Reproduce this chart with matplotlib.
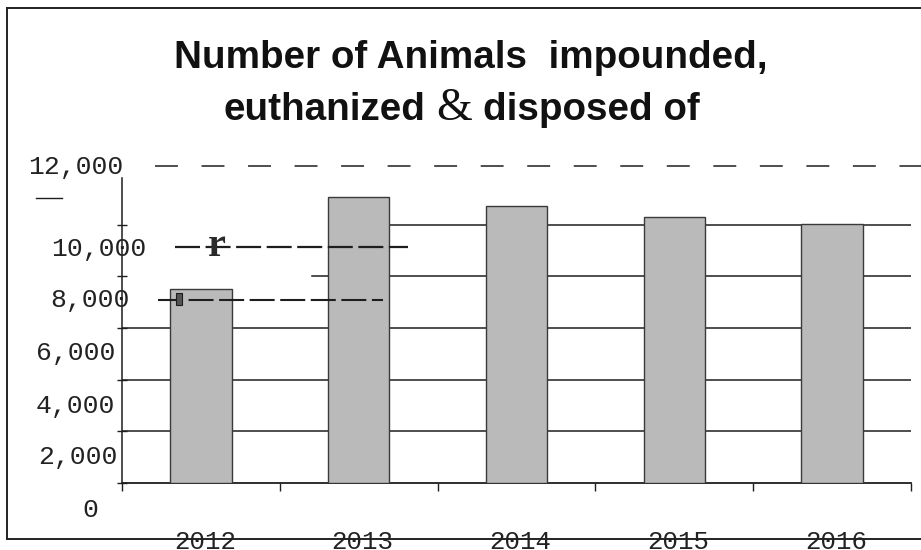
import matplotlib
matplotlib.use("Agg")
import matplotlib.pyplot as plt
import matplotlib.transforms as mtransforms
from matplotlib.lines import Line2D

years = ["2012", "2013", "2014", "2015", "2016"]
animals = [7500, 11070, 10730, 10310, 10040]

ytick_values = [0, 2000, 4000, 6000, 8000, 10000, 12000]
ytick_labels = ["0", "2,000", "4,000", "6,000", "8,000", "10,000", "12,000"]
# scanned page: labels sit off their gridlines, (dx, dy) in pixels
ytick_shift = [(-24, 27), (-5, 26), (-7, 26), (-7, 25), (8, 24), (24, 24), (1, -6)]

W, H = 921, 550
plt.rcParams["lines.scale_dashes"] = False

fig = plt.figure(figsize=(W / 100, H / 100), dpi=100)
ax = fig.add_axes([122 / W, 67 / H, 789 / W, 310 / H])

x = list(range(len(years)))
ax.bar(x, animals, width=0.39, color="#bababa", edgecolor="#3a3a3a",
       linewidth=1.0, zorder=3)

ax.set_xlim(-0.5, len(years) - 0.5)
ax.set_ylim(0, 12000)

# solid gridlines (upper two are broken on the scan)
grid_from = {2000: 0.0, 4000: 0.0, 6000: 0.0, 8000: 0.241, 10000: 0.34}
for v, start in grid_from.items():
    ax.axhline(v, xmin=start, xmax=1, color="#1e1e1e", lw=1.1, zorder=1)

for s in ["top", "right"]:
    ax.spines[s].set_visible(False)
ax.spines["left"].set_bounds(0, 11800)
ax.spines["left"].set_linewidth(1.1)
ax.spines["bottom"].set_linewidth(1.3)
ax.spines["left"].set_color("#1e1e1e")
ax.spines["bottom"].set_color("#1e1e1e")

# y ticks drawn as marks only, labels placed by hand below
ax.set_yticks(ytick_values[:-1])
ax.set_yticklabels([])
ax.tick_params(axis="y", direction="inout", length=7, width=1.0, color="#1e1e1e")

ytr = ax.get_yaxis_transform()
for v, lab, (dx, dy) in zip(ytick_values, ytick_labels, ytick_shift):
    off = mtransforms.ScaledTranslation(dx / 100, -dy / 100, fig.dpi_scale_trans)
    ax.text(0, v, lab, transform=ytr + off, ha="right", va="center",
            family="Liberation Mono", fontsize=19, color="#222222")

# x: ticks between categories, labels under the bars
ax.set_xticks([i - 0.5 for i in range(len(years) + 1)])
ax.set_xticklabels([])
ax.tick_params(axis="x", which="major", direction="out", length=6, width=1.0,
               color="#1e1e1e")
ax.set_xticks(x, minor=True)
ax.set_xticklabels(years, minor=True, family="Liberation Mono", fontsize=18.5,
                   color="#222222")
ax.tick_params(axis="x", which="minor", length=0, pad=34)
for lab in ax.get_xticklabels(minor=True):
    lab.set_transform(lab.get_transform() +
                      mtransforms.ScaledTranslation(0.04, 0, fig.dpi_scale_trans))


def px(xp, yp):
    return xp / W, 1 - yp / H


def seg(x0, x1, y, lw=1.1, dashes=None, color="#1e1e1e", z=5):
    (a, yy), (b, _) = px(x0, y), px(x1, y)
    ln = Line2D([a, b], [yy, yy], transform=fig.transFigure, color=color,
                lw=lw, zorder=z)
    if dashes:
        ln.set_dashes(dashes)
    fig.add_artist(ln)


# scan artefacts: dashed strokes, stray marks
seg(155, 921, 166, dashes=(16.5, 17))
seg(175, 408, 247, lw=1.6, dashes=(18, 4))
seg(158, 383, 300, lw=1.5, dashes=(18, 4))
seg(36, 62, 198, lw=1.0)
fig.text(*px(217, 246), "r", ha="center", va="center", family="Liberation Serif",
         fontweight="bold", fontsize=29, color="#2a2a2a", zorder=6)
fig.add_artist(plt.Rectangle(px(176, 305), 6 / W, 12 / H, transform=fig.transFigure,
                             facecolor="#555555", edgecolor="#1e1e1e", lw=0.8,
                             zorder=6))

# page frame
fx0, fy0 = px(7, 8)
fx1, fy1 = px(921, 539)
for xs, ys in [([fx0, fx0], [fy0, fy1]), ([fx0, fx1], [fy0, fy0]),
               ([fx0, fx1], [fy1, fy1])]:
    fig.add_artist(Line2D(xs, ys, transform=fig.transFigure, color="#222222",
                          lw=1.4, zorder=2))

# title
tfont = dict(family="Liberation Sans", fontweight="bold", fontsize=27.8,
             color="#111111")
fig.text(*px(471, 68), "Number of Animals  impounded,", ha="center",
         va="baseline", **tfont)

fig.canvas.draw()
r = fig.canvas.get_renderer()
gap = 11
t1 = fig.text(0, 1 - 120 / H, "euthanized", ha="left", va="baseline", **tfont)
t2 = fig.text(0, 1 - 120 / H, "&", ha="left", va="baseline",
              family="Liberation Serif", fontsize=33, color="#111111")
t3 = fig.text(0, 1 - 120 / H, "disposed of", ha="left", va="baseline", **tfont)
w1, w2, w3 = (t.get_window_extent(r).width for t in (t1, t2, t3))
start = 462 - (w1 + w2 + w3 + 2 * gap) / 2
t1.set_x(start / W)
t2.set_x((start + w1 + gap) / W)
t3.set_x((start + w1 + w2 + 2 * gap) / W)

fig.savefig("out.png", dpi=100, facecolor="white")
plt.close(fig)
